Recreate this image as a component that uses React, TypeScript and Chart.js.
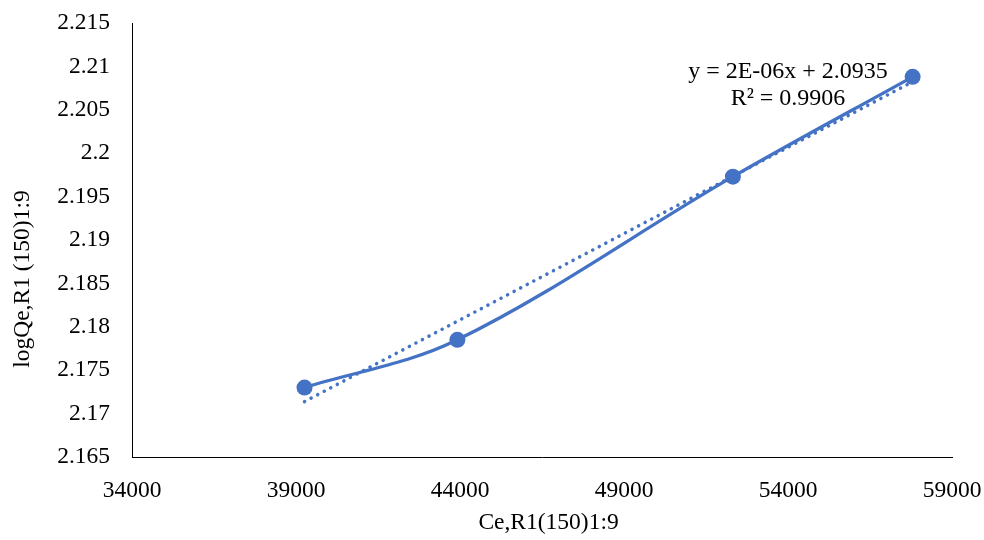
import React, { useEffect, useRef } from "react";
import { Chart, registerables } from "chart.js";

Chart.register(...registerables);

const xValues = [39260, 43920, 52320, 57800];
const yValues = [2.173, 2.1785, 2.1973, 2.2088];
const equationText = "y = 2E-06x + 2.0935";
const r2Text = "R² = 0.9906";
const xTitle = "Ce,R1(150)1:9";
const yTitle = "logQe,R1 (150)1:9";

const FONT = "'Liberation Serif', 'Times New Roman', serif";
const BLUE = "#4472C4";

function regression(xs: number[], ys: number[]) {
  const n = xs.length;
  const mx = xs.reduce((a, b) => a + b, 0) / n;
  const my = ys.reduce((a, b) => a + b, 0) / n;
  let sxy = 0, sxx = 0;
  for (let i = 0; i < n; i++) {
    sxy += (xs[i] - mx) * (ys[i] - my);
    sxx += (xs[i] - mx) ** 2;
  }
  const m = sxy / sxx;
  return { m, b: my - m * mx };
}

export default function App() {
  const ref = useRef<HTMLCanvasElement | null>(null);
  useEffect(() => {
    if (!ref.current) return;
    const { m, b } = regression(xValues, yValues);
    const xMin = xValues[0];
    const xMax = xValues[xValues.length - 1];
    const trend = [
      { x: xMin, y: m * xMin + b },
      { x: xMax, y: m * xMax + b },
    ];
    const labelPlugin = {
      id: "eqLabel",
      afterDraw(chart: any) {
        const ctx = chart.ctx;
        const xs = chart.scales.x;
        const ys = chart.scales.y;
        ctx.save();
        ctx.fillStyle = "#000";
        ctx.font = `24px ${FONT}`;
        ctx.textAlign = "center";
        ctx.textBaseline = "middle";
        const cx = xs.getPixelForValue(54000);
        ctx.fillText(equationText, cx, ys.getPixelForValue(2.20935));
        ctx.fillText(r2Text, cx, ys.getPixelForValue(2.20624));
        ctx.font = `23.5px ${FONT}`;
        ctx.fillText(xTitle, xs.getPixelForValue(46700), 523);
        ctx.translate(23, ys.getPixelForValue(2.1855));
        ctx.rotate(-Math.PI / 2);
        ctx.fillText(yTitle, 0, 0);
        ctx.restore();
      },
    };
    const chart = new Chart(ref.current, {
      type: "scatter",
      data: {
        datasets: [
          {
            data: xValues.map((x, i) => ({ x, y: yValues[i] })),
            showLine: true,
            borderColor: BLUE,
            backgroundColor: BLUE,
            borderWidth: 3.25,
            tension: 0.35,
            pointRadius: 8,
            pointBorderWidth: 0,
          },
          {
            data: trend,
            showLine: true,
            borderColor: BLUE,
            borderWidth: 3.5,
            borderDash: [0.1, 7.3],
            borderCapStyle: "round",
            pointRadius: 0,
          },
        ],
      },
      options: {
        animation: false,
        responsive: false,
        maintainAspectRatio: false,
        layout: { padding: { left: 0, right: 32, top: 23, bottom: 0 } },
        plugins: {
          legend: { display: false },
          tooltip: { enabled: false },
        },
        scales: {
          x: {
            type: "linear",
            min: 34000,
            max: 59000,
            ticks: {
              stepSize: 5000,
              color: "#000",
              font: { family: FONT, size: 23.5 },
              padding: 20,
              maxRotation: 0,
              callback: (v: any) => String(v),
            },
            grid: { display: false, drawTicks: false },
            border: { display: true, color: "#000", width: 1 },
            title: { display: false },
            afterFit: (s: any) => {
              s.height = 83;
              s.paddingLeft = 0;
              s.paddingRight = 0;
            },
          },
          y: {
            type: "linear",
            min: 2.165,
            max: 2.215,
            ticks: {
              stepSize: 0.005,
              color: "#000",
              font: { family: FONT, size: 23.5 },
              padding: 22,
              callback: (v: any) => String(Math.round(v * 1000) / 1000),
            },
            grid: { display: false, drawTicks: false },
            border: { display: true, color: "#000", width: 1 },
            title: { display: false },
            afterFit: (s: any) => {
              s.width = 132;
              s.paddingTop = 0;
              s.paddingBottom = 0;
            },
          },
        },
      },
      plugins: [labelPlugin],
    });
    return () => chart.destroy();
  }, []);
  return (
    <div style={{ position: "absolute", left: 0, top: 0, width: 984, height: 540, background: "#fff" }}>
      <canvas ref={ref} width={984} height={540} style={{ width: 984, height: 540 }} />
    </div>
  );
}
